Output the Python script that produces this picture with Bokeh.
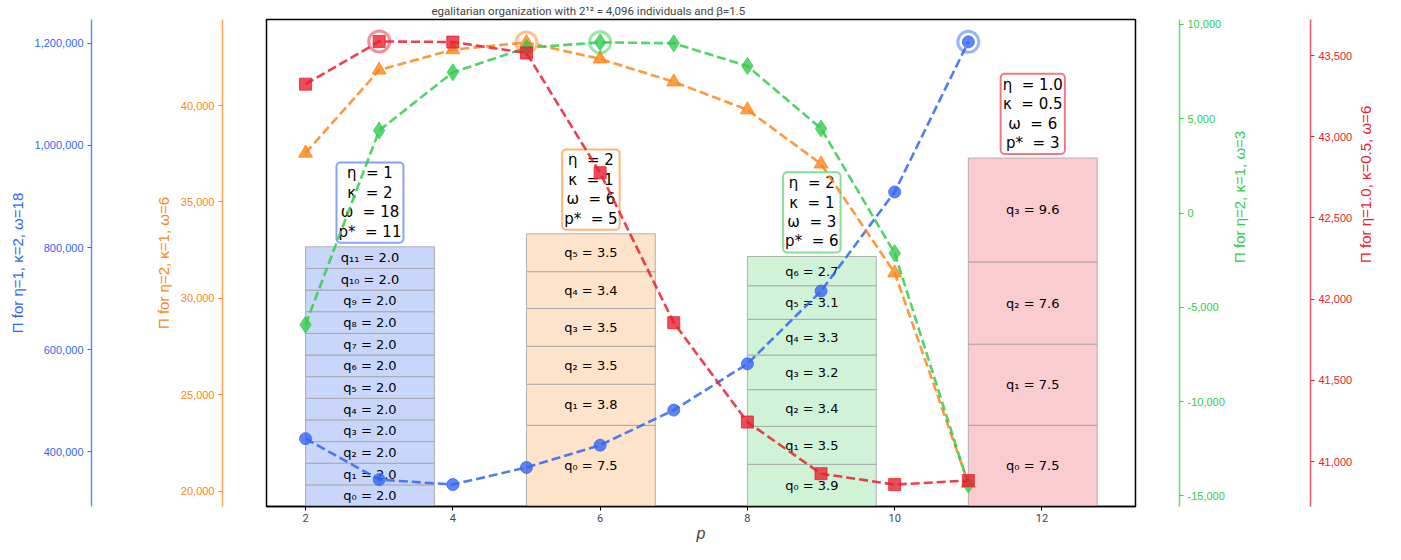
import math
from bokeh.plotting import figure
from bokeh.models import Range1d, LinearAxis, FixedTicker, NumeralTickFormatter
from bokeh.core.properties import value
from bokeh.embed import file_html
from bokeh.resources import INLINE

# ---------------- data ----------------
p_values = [2, 3, 4, 5, 6, 7, 8, 9, 10, 11]

pi_blue = [425600, 345300, 335600, 369200, 412700, 481500, 572200, 714800, 908900, 1203000]
pi_orange = [37530, 41840, 42900, 43270, 42420, 41230, 39780, 36970, 31320, 20400]
pi_green = [-5920, 4380, 7460, 8760, 9050, 9000, 7790, 4480, -2130, -14390]
pi_red = [43324, 43587, 43583, 43516, 42778, 41855, 41243, 40925, 40858, 40883]

q_blue = [2.0, 2.0, 2.0, 2.0, 2.0, 2.0, 2.0, 2.0, 2.0, 2.0, 2.0, 2.0]
q_orange = [7.5, 3.8, 3.5, 3.5, 3.4, 3.5]
q_green = [3.9, 3.5, 3.4, 3.2, 3.3, 3.1, 2.7]
q_red = [7.5, 7.5, 7.6, 9.6]

eta_vals = ["1", "2", "2", "1.0"]
kappa_vals = ["2", "1", "1", "0.5"]
omega_vals = ["18", "6", "3", "6"]
pstar_vals = [11, 5, 6, 3]

bar_starts = [2, 5, 8, 11]

ticks_blue = [400000, 600000, 800000, 1000000, 1200000]
ticks_orange = [20000, 25000, 30000, 35000, 40000]
ticks_green = [-15000, -10000, -5000, 0, 5000, 10000]
ticks_red = [41000, 41500, 42000, 42500, 43000, 43500]
ticks_x = [2, 4, 6, 8, 10, 12]

axis_labels = ["Π for η=1, κ=2, ω=18", "Π for η=2, κ=1, ω=6",
               "Π for η=2, κ=1, ω=3", "Π for η=1.0, κ=0.5, ω=6"]

title_text = "egalitarian organization with 2¹² = 4,096 individuals and β=1.5"

# ---------------- styling ----------------
C_BLUE = "#3366f2"
C_ORANGE = "#ff8519"
C_GREEN = "#33cc4d"
C_RED = "#e8202e"
FILLS = ["#c9d6fb", "#fde3c9", "#d0f3d8", "#f9ccd0"]
BAR_W = 1.75
NARROW = "Roboto"
Q_TOP = 45

p = figure(width=1385, height=544, x_range=Range1d(1.47, 13.27), y_range=Range1d(0, Q_TOP),
           output_backend="svg", toolbar_location=None, y_axis_location=None,
           min_border_left=266, min_border_right=248, min_border_top=0, min_border_bottom=0,
           title=title_text)
p.title.text_font_size = "11.5px"
p.title.text_font_style = "normal"
p.title.text_font = NARROW
p.title.align = "left"
p.title.offset = 165
p.title.standoff = 3
p.grid.visible = False
p.outline_line_color = "black"
p.outline_line_width = 1.5
p.outline_line_alpha = 1.0
p.background_fill_color = "white"

p.extra_y_ranges = {
    "blue": Range1d(292640, 1246840),
    "orange": Range1d(19199, 44464),
    "green": Range1d(-15558, 10261),
    "red": Range1d(40723, 43722),
}

# x axis
xa = p.xaxis[0]
xa.ticker = FixedTicker(ticks=ticks_x)
xa.major_label_text_font_size = "11px"
xa.major_label_text_font = NARROW
xa.axis_label = "p"
xa.axis_label_text_font_style = "italic"
xa.axis_label_text_font_size = "16px"
xa.axis_label_standoff = 0
xa.major_label_standoff = 3
xa.major_tick_out = 4
xa.major_tick_in = 0
xa.minor_tick_line_color = None
xa.axis_line_color = "black"
xa.axis_line_width = 1.5


def spacer(rng, tick, w):
    # an axis that only reserves room: one blank tick, no line, no label
    return LinearAxis(y_range_name=rng, ticker=FixedTicker(ticks=[tick]), major_tick_out=w,
                      major_tick_in=0, minor_tick_out=0, minor_tick_in=0,
                      axis_line_color=None, major_tick_line_color="white",
                      major_tick_line_alpha=0.0,
                      minor_tick_line_color=None, major_label_standoff=0,
                      major_label_overrides={tick: ""})


def title_axis(label, color, standoff):
    # an axis whose single (rotated) tick label is the axis title, reading bottom-to-top
    mid = Q_TOP / 2
    return LinearAxis(ticker=FixedTicker(ticks=[mid]), major_tick_out=0, major_tick_in=0,
                      minor_tick_out=0, minor_tick_in=0, axis_line_color=None,
                      major_tick_line_color=None, minor_tick_line_color=None,
                      major_label_overrides={mid: label},
                      major_label_orientation=math.pi / 2,
                      major_label_standoff=standoff, major_label_text_color=color,
                      major_label_text_font_size="15px")


def series_axis(rng, ticks, label, color):
    return LinearAxis(y_range_name=rng, ticker=FixedTicker(ticks=ticks),
                      formatter=NumeralTickFormatter(format="0,0"), axis_label=label,
                      axis_line_color=color, axis_line_width=1.5, axis_line_alpha=0.75,
                      major_tick_line_color=color, major_tick_out=4, major_tick_in=0,
                      minor_tick_line_color=None, major_label_text_color=color,
                      major_label_text_font_size="11px", major_label_standoff=4,
                      axis_label_text_color=color, axis_label_text_font_size="15px",
                      axis_label_text_font_style="normal", axis_label_standoff=6)


p.add_layout(spacer("orange", 30000, 44), "left")
p.add_layout(series_axis("orange", ticks_orange, axis_labels[1], C_ORANGE), "left")
p.add_layout(spacer("blue", 800000, 60), "left")
p.add_layout(series_axis("blue", ticks_blue, axis_labels[0], C_BLUE), "left")

p.add_layout(spacer("green", 0, 44), "right")
p.add_layout(series_axis("green", ticks_green, None, C_GREEN), "right")
p.add_layout(title_axis(axis_labels[2], C_GREEN, 12), "right")
p.add_layout(spacer("red", 42000, 51), "right")
p.add_layout(series_axis("red", ticks_red, None, C_RED), "right")
p.add_layout(title_axis(axis_labels[3], C_RED, 10), "right")

# ---------------- stacked bars ----------------
SUB = str.maketrans("0123456789", "₀₁₂₃₄₅₆₇₈₉")
q_sets = [q_blue, q_orange, q_green, q_red]
colors = [C_BLUE, C_ORANGE, C_GREEN, C_RED]
tops = []
for start, qs, fill in zip(bar_starts, q_sets, FILLS):
    bottoms, tps = [], []
    acc = 0.0
    for q in qs:
        bottoms.append(acc)
        acc += q
        tps.append(acc)
    tops.append(acc)
    p.quad(left=[start] * len(qs), right=[start + BAR_W] * len(qs), bottom=bottoms, top=tps,
           fill_color=fill, line_color="#a0a0a0", line_width=1, line_alpha=0.8)
    p.text(x=[start + BAR_W / 2] * len(qs), y=[(b + t) / 2 for b, t in zip(bottoms, tps)],
           text=["q" + str(i).translate(SUB) + " = " + f"{q:.1f}" for i, q in enumerate(qs)],
           text_align="center", text_baseline="middle", text_font_size="13px",
           text_font=value("DejaVu Sans"), text_color="black")

# parameter boxes
NB = "\u00a0"
box_texts = [f"η{NB} = {e}\nκ{NB} = {k}\nω{NB} = {o}\np*{NB} = {ps}"
             for e, k, o, ps in zip(eta_vals, kappa_vals, omega_vals, pstar_vals)]
p.text(x=[s + BAR_W / 2 for s in bar_starts], y=tops, text=box_texts,
       text_align="center", text_baseline="bottom", y_offset=-4,
       text_font_size="15px", text_font=value("DejaVu Sans"), text_color="black",
       text_line_height=1.08,
       background_fill_color="white", border_line_color=colors, border_line_width=2,
       border_line_alpha=0.6, padding=2, border_radius=4)

# ---------------- lines and markers ----------------
series = [
    ("blue", pi_blue, C_BLUE, "circle", 12),
    ("orange", pi_orange, C_ORANGE, "triangle", 14),
    ("green", pi_green, C_GREEN, "diamond", 17),
    ("red", pi_red, C_RED, "square", 12),
]
for (rng, ys, col, mk, sz), ps in zip(series, pstar_vals):
    p.line(p_values, ys, y_range_name=rng, line_color=col, line_width=2.6,
           line_dash="9 4", line_alpha=0.85)
    p.scatter(p_values, ys, y_range_name=rng, marker=mk, size=sz, fill_color=col,
              line_color=col, fill_alpha=0.8, line_alpha=0.8)
    idx = p_values.index(ps)
    p.scatter([ps], [ys[idx]], y_range_name=rng, marker="circle", size=21,
              fill_color=None, line_color=col, line_width=3, line_alpha=0.5)

open("out.html", "w").write(file_html(p, INLINE))
